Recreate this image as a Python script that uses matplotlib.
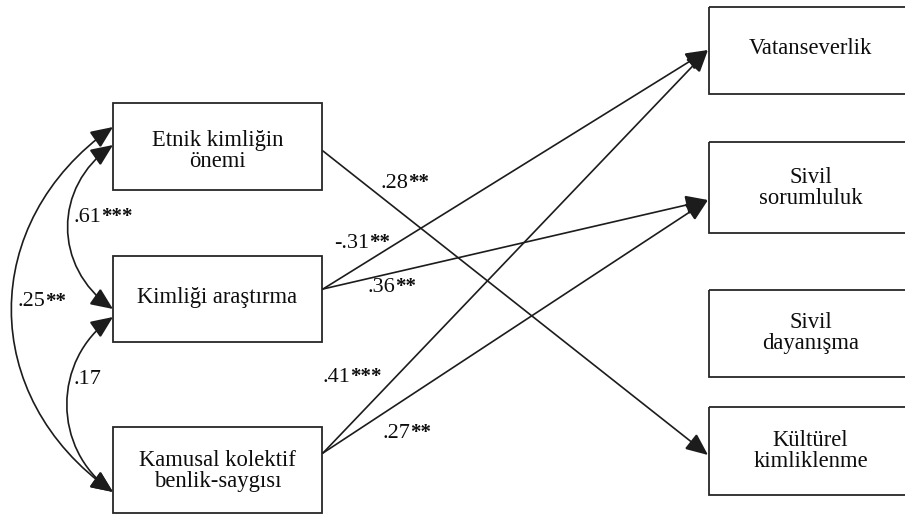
import matplotlib
matplotlib.use("Agg")
import matplotlib.pyplot as plt
from matplotlib.patches import Rectangle, FancyArrowPatch
from matplotlib.path import Path

# ---- data ----
predictors = ["Etnik kimliğin\nönemi", "Kimliği araştırma", "Kamusal kolektif\nbenlik-saygısı"]
outcomes = ["Vatanseverlik", "Sivil\nsorumluluk", "Sivil\ndayanışma", "Kültürel\nkimliklenme"]
path_from = [0, 1, 1, 2, 2]
path_to = [3, 0, 1, 0, 1]
path_coefs = [".28", "-.31", ".36", ".41", ".27"]
path_stars = ["**", "**", "**", "***", "**"]
cov_coefs = [".61", ".17", ".25"]
cov_stars = ["***", "", "**"]

# ---- layout (pixel space) ----
left_x0, left_x1 = 113, 322
left_boxes_y = [(103, 190), (256, 342), (427, 513)]
left_text_y = [151, 298, 471]
left_out_y = [151, 289, 453]
right_x0, right_x1 = 709, 912
right_boxes_y = [(7, 94), (142, 233), (290, 377), (407, 495)]
right_text_y = [48, 188, 333, 451]
right_in_y = [50, 200, 333, 455]
path_label_pos = [(380, 183), (334, 243), (367, 287), (322, 377), (382, 433)]
cov_ends = [(145, 309), (317, 492), (127, 492)]
cov_bulge = [(60, 42), (61, 43), (135, 95)]
cov_label_pos = [(73, 217), (73, 380), (17, 302)]

FONT = "Liberation Serif"
LC = "#1c1c1c"
TC = "#0d0d0d"

fig = plt.figure(figsize=(9.05, 5.15), dpi=100)
ax = fig.add_axes([0, 0, 1, 1])
ax.set_xlim(0, 905)
ax.set_ylim(515, 0)
ax.axis("off")


def label(x, y, num, stars):
    t = ax.text(x, y, num, ha="left", va="center", fontsize=16, family=FONT, color=TC)
    if stars:
        ax.annotate(stars, xy=(1, 0.5), xycoords=t, ha="left", va="center",
                    fontsize=15, family=FONT, fontweight="bold", color=TC)


for (y0, y1), ty, name in zip(left_boxes_y, left_text_y, predictors):
    ax.add_patch(Rectangle((left_x0, y0), left_x1 - left_x0, y1 - y0,
                           fill=False, ec="#262626", lw=1.3))
    ax.text((left_x0 + left_x1) / 2, ty, name, ha="center", va="center",
            fontsize=16.3, family=FONT, linespacing=1.02, color=TC)

for (y0, y1), ty, name in zip(right_boxes_y, right_text_y, outcomes):
    ax.add_patch(Rectangle((right_x0, y0), right_x1 - right_x0, y1 - y0,
                           fill=False, ec="#262626", lw=1.3))
    ax.text((right_x0 + right_x1) / 2, ty, name, ha="center", va="center",
            fontsize=16.3, family=FONT, linespacing=1.02, color=TC)

astyle = "-|>,head_length=1.15,head_width=0.5"
for f, t, num, st, (lx, ly) in zip(path_from, path_to, path_coefs, path_stars, path_label_pos):
    a = FancyArrowPatch((left_x1 + 1, left_out_y[f]), (right_x0 - 1, right_in_y[t]),
                        arrowstyle=astyle, mutation_scale=12, shrinkA=0, shrinkB=0,
                        lw=1.2, fc=LC, ec=LC, joinstyle="miter")
    ax.add_patch(a)
    label(lx, ly, num, st)

for (y1, y2), (a_, b_), num, st, (lx, ly) in zip(cov_ends, cov_bulge, cov_coefs, cov_stars, cov_label_pos):
    verts = [(left_x0, y1), (left_x0 - a_, y1 + b_), (left_x0 - a_, y2 - b_), (left_x0, y2)]
    p = Path(verts, [Path.MOVETO, Path.CURVE4, Path.CURVE4, Path.CURVE4])
    arr = FancyArrowPatch(path=p, arrowstyle="<|-|>,head_length=1.15,head_width=0.5",
                          mutation_scale=12, lw=1.2, fc=LC, ec=LC, joinstyle="miter")
    ax.add_patch(arr)
    label(lx, ly, num, st)

fig.savefig("out.png", dpi=100, facecolor="white")
